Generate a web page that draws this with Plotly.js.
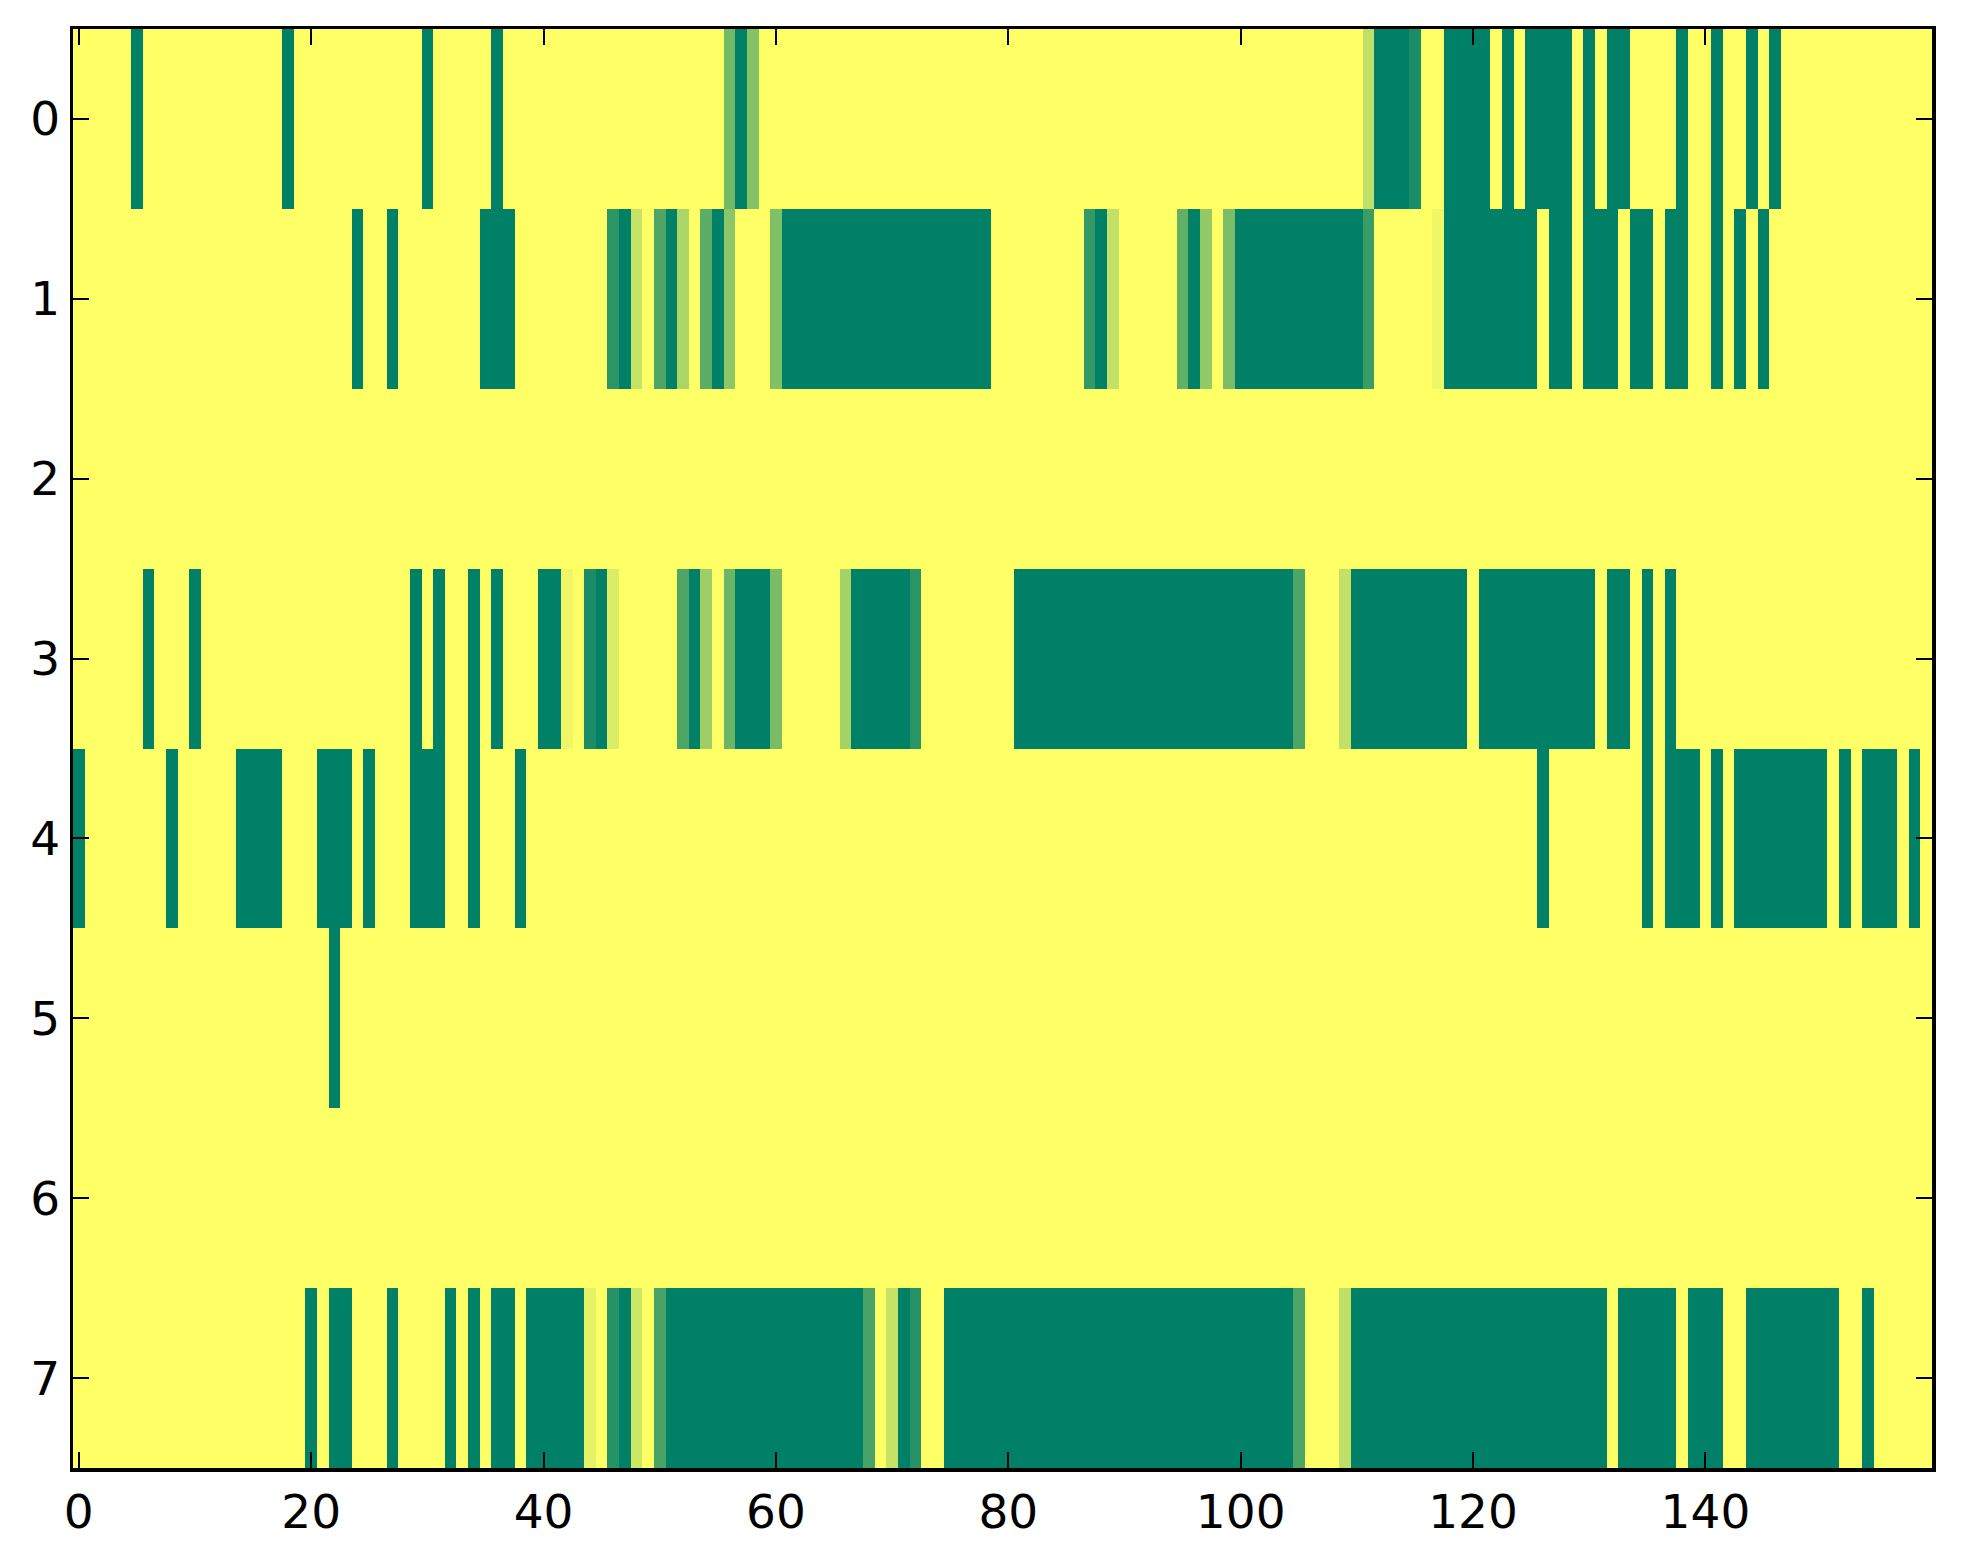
<!DOCTYPE html>
<html>
<head>
<meta charset="utf-8">
<script src="https://cdn.plot.ly/plotly-3.0.1.min.js"></script>
<style>html,body{margin:0;padding:0;background:#fff;}#chart{width:1963px;height:1564px;}</style>
</head>
<body>
<div id="chart"></div>
<script>
// Row values (0 = dark green, 1 = yellow), columns 0..159
var row0 = [
1,1,1,1,1,0,1,1,1,1, 1,1,1,1,1,1,1,1,0,1, 1,1,1,1,1,1,1,1,1,1, 0,1,1,1,1,1,0,1,1,1,
1,1,1,1,1,1,1,1,1,1, 1,1,1,1,1,1,0.45,0,0.52,1, 1,1,1,1,1,1,1,1,1,1, 1,1,1,1,1,1,1,1,1,1,
1,1,1,1,1,1,1,1,1,1, 1,1,1,1,1,1,1,1,1,1, 1,1,1,1,1,1,1,1,1,1, 1,0.75,0,0,0,0.1,1,1,0,0,
0,0,1,0,1,0,0,0,0,1, 0,1,0,0,1,1,1,1,0,1, 1,0,1,1,0,1,0,1,1,1, 1,1,1,1,1,1,1,1,1,1];
var row1 = [
1,1,1,1,1,1,1,1,1,1, 1,1,1,1,1,1,1,1,1,1, 1,1,1,1,0,1,1,0,1,1, 1,1,1,1,1,0,0,0,1,1,
1,1,1,1,1,1,0.17,0,0.78,1, 0.3,0,0.67,1,0.36,0,0.55,1,1,1, 0.5,0,0,0,0,0,0,0,0,0, 0,0,0,0,0,0,0,0,0,1,
1,1,1,1,1,1,1,0.2,0,0.76, 1,1,1,1,1,0.38,0,0.58,1,0.48, 0,0,0,0,0,0,0,0,0,0, 0,0.23,1,1,1,1,1,0.94,0,0,
0,0,0,0,0,0,1,0,0,1, 0,0,0,1,0,0,1,0,0,1, 1,0,1,0,1,0,1,1,1,1, 1,1,1,1,1,1,1,1,1,1];
var row2 = [
1,1,1,1,1,1,1,1,1,1, 1,1,1,1,1,1,1,1,1,1, 1,1,1,1,1,1,1,1,1,1, 1,1,1,1,1,1,1,1,1,1,
1,1,1,1,1,1,1,1,1,1, 1,1,1,1,1,1,1,1,1,1, 1,1,1,1,1,1,1,1,1,1, 1,1,1,1,1,1,1,1,1,1,
1,1,1,1,1,1,1,1,1,1, 1,1,1,1,1,1,1,1,1,1, 1,1,1,1,1,1,1,1,1,1, 1,1,1,1,1,1,1,1,1,1,
1,1,1,1,1,1,1,1,1,1, 1,1,1,1,1,1,1,1,1,1, 1,1,1,1,1,1,1,1,1,1, 1,1,1,1,1,1,1,1,1,1];
var row3 = [
1,1,1,1,1,1,0,1,1,1, 0,1,1,1,1,1,1,1,1,1, 1,1,1,1,1,1,1,1,1,0, 1,0,1,1,0,1,0,1,1,1,
0,0,0.94,1,0.1,0,0.86,1,1,1, 1,1,0.3,0,0.62,1,0.42,0,0,0, 0.48,1,1,1,1,1,0.65,0,0,0, 0,0,0.16,1,1,1,1,1,1,1,
1,0,0,0,0,0,0,0,0,0, 0,0,0,0,0,0,0,0,0,0, 0,0,0,0,0,0.3,1,1,1,0.76, 0,0,0,0,0,0,0,0,0,0,
1,0,0,0,0,0,0,0,0,0, 0,1,0,0,1,0,1,0,1,1, 1,1,1,1,1,1,1,1,1,1, 1,1,1,1,1,1,1,1,1,1];
var row4 = [
0,1,1,1,1,1,1,1,0,1, 1,1,1,1,0,0,0,0,1,1, 1,0,0,0,1,0,1,1,1,0, 0,0,1,1,0,1,1,1,0,1,
1,1,1,1,1,1,1,1,1,1, 1,1,1,1,1,1,1,1,1,1, 1,1,1,1,1,1,1,1,1,1, 1,1,1,1,1,1,1,1,1,1,
1,1,1,1,1,1,1,1,1,1, 1,1,1,1,1,1,1,1,1,1, 1,1,1,1,1,1,1,1,1,1, 1,1,1,1,1,1,1,1,1,1,
1,1,1,1,1,1,0,1,1,1, 1,1,1,1,1,0,1,0,0,0, 1,0,1,0,0,0,0,0,0,0, 0,1,0,1,0,0,0,1,0,1];
var row5 = [
1,1,1,1,1,1,1,1,1,1, 1,1,1,1,1,1,1,1,1,1, 1,1,0,1,1,1,1,1,1,1, 1,1,1,1,1,1,1,1,1,1,
1,1,1,1,1,1,1,1,1,1, 1,1,1,1,1,1,1,1,1,1, 1,1,1,1,1,1,1,1,1,1, 1,1,1,1,1,1,1,1,1,1,
1,1,1,1,1,1,1,1,1,1, 1,1,1,1,1,1,1,1,1,1, 1,1,1,1,1,1,1,1,1,1, 1,1,1,1,1,1,1,1,1,1,
1,1,1,1,1,1,1,1,1,1, 1,1,1,1,1,1,1,1,1,1, 1,1,1,1,1,1,1,1,1,1, 1,1,1,1,1,1,1,1,1,1];
var row6 = [
1,1,1,1,1,1,1,1,1,1, 1,1,1,1,1,1,1,1,1,1, 1,1,1,1,1,1,1,1,1,1, 1,1,1,1,1,1,1,1,1,1,
1,1,1,1,1,1,1,1,1,1, 1,1,1,1,1,1,1,1,1,1, 1,1,1,1,1,1,1,1,1,1, 1,1,1,1,1,1,1,1,1,1,
1,1,1,1,1,1,1,1,1,1, 1,1,1,1,1,1,1,1,1,1, 1,1,1,1,1,1,1,1,1,1, 1,1,1,1,1,1,1,1,1,1,
1,1,1,1,1,1,1,1,1,1, 1,1,1,1,1,1,1,1,1,1, 1,1,1,1,1,1,1,1,1,1, 1,1,1,1,1,1,1,1,1,1];
var row7 = [
1,1,1,1,1,1,1,1,1,1, 1,1,1,1,1,1,1,1,1,1, 0,1,0,0,1,1,1,0,1,1, 1,1,0,1,0,1,0,0,1,0,
0,0,0,0,0.9,1,0.15,0,0.8,1, 0.28,0,0,0,0,0,0,0,0,0, 0,0,0,0,0,0,0,0,0.28,1, 0.78,0,0.15,1,1,0,0,0,0,0,
0,0,0,0,0,0,0,0,0,0, 0,0,0,0,0,0,0,0,0,0, 0,0,0,0,0,0.3,1,1,1,0.75, 0,0,0,0,0,0,0,0,0,0,
0,0,0,0,0,0,0,0,0,0, 0,0,1,0,0,0,0,0,1,0, 0,0,1,1,0,0,0,0,0,0, 0,0,1,1,0,1,1,1,1,1];

var rows = [row0,row1,row2,row3,row4,row5,row6,row7];
var xTicks = [0,20,40,60,80,100,120,140];
var yTicks = [0,1,2,3,4,5,6,7];
var nCols = row0.length;

var trace = {
  type: 'heatmap',
  z: rows,
  colorscale: [[0,'#008066'],[1,'#ffff66']],
  zmin: 0, zmax: 1,
  showscale: false,
  zsmooth: false,
  hoverinfo: 'skip'
};

var axisCommon = {
  showline: true, linecolor: '#000', linewidth: 3.5,
  mirror: 'ticks', ticks: 'inside', ticklen: 16, tickwidth: 2, tickcolor: '#000',
  showgrid: false, zeroline: false,
  tickfont: {family: 'DejaVu Sans', size: 47, color: '#000'}
};

var layout = {
  width: 1963, height: 1564, autosize: false,
  margin: {l: 73, r: 31, t: 29, b: 96, pad: 0},
  paper_bgcolor: '#fff', plot_bgcolor: '#fff',
  xaxis: Object.assign({}, axisCommon, {
    range: [-0.5, nCols - 0.5], tickmode: 'array', tickvals: xTicks, ticktext: xTicks.map(String)
  }),
  yaxis: Object.assign({}, axisCommon, {
    range: [rows.length - 0.5, -0.5], tickmode: 'array', tickvals: yTicks, ticktext: yTicks.map(String)
  }),
  showlegend: false
};

Plotly.newPlot('chart', [trace], layout, {staticPlot: true, displayModeBar: false});
</script>
</body>
</html>
